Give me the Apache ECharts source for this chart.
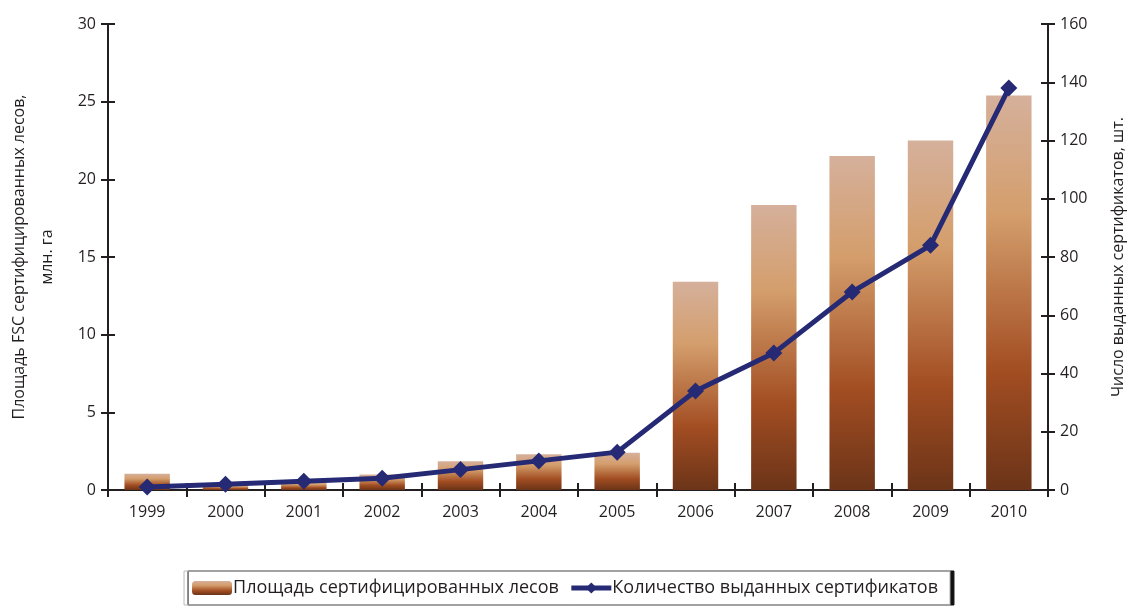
<!DOCTYPE html>
<html>
<head>
<meta charset="utf-8">
<script src="https://cdn.jsdelivr.net/npm/echarts@6/dist/echarts.min.js"></script>
<style>
  html, body { margin: 0; padding: 0; background: #fff; }
  #grafico { width: 1130px; height: 606px; }
</style>
</head>
<body>
<div id="grafico"></div>
<script>
// Datos
const anios = ['1999', '2000', '2001', '2002', '2003', '2004', '2005', '2006', '2007', '2008', '2009', '2010'];
const superficie = [1.05, 0.3, 0.5, 1.0, 1.85, 2.3, 2.4, 13.4, 18.35, 21.5, 22.5, 25.4];
const certificados = [1, 2, 3, 4, 7, 10, 13, 34, 47, 68, 84, 138];

const fuente = '"Open Sans", sans-serif';
const colorEje = '#231f20';

const grafico = echarts.init(document.getElementById('grafico'));

// Degradado de cada barra: claro arriba, marrón oscuro abajo
const degradado = new echarts.graphic.LinearGradient(0, 0, 0, 1, [
    { offset: 0, color: '#d5b09b' },
    { offset: 0.3, color: '#d49e6c' },
    { offset: 0.7, color: '#a24d22' },
    { offset: 1, color: '#6b3418' }
]);

const ejeBaseY = {
    type: 'value',
    splitLine: { show: false },
    axisLine: { show: true, lineStyle: { color: colorEje, width: 2 } },
    axisTick: { show: true, length: 7, lineStyle: { color: colorEje, width: 2 } },
    axisLabel: { color: '#231f20', fontSize: 16, fontFamily: fuente, margin: 12 }
};

const opciones = {
    animation: false,
    textStyle: { fontFamily: fuente },
    grid: { left: 108, right: 82, top: 24, bottom: 116, outerBoundsMode: 'none' },
    legend: {
        bottom: 1,
        left: 'center',
        itemWidth: 40,
        itemHeight: 14,
        itemGap: 10,
        padding: [8, 12, 8, 8],
        borderColor: '#bbbbbb',
        borderWidth: 1,
        backgroundColor: '#fff',
        shadowColor: '#111',
        shadowOffsetX: 4,
        shadowOffsetY: 0,
        shadowBlur: 0,
        textStyle: { fontSize: 18, color: '#231f20', fontFamily: fuente, padding: [0, 0, 0, -4] },
        data: [
            { name: 'Площадь сертифицированных лесов' },
            { name: 'Количество выданных сертификатов', lineStyle: { width: 5 } }
        ]
    },
    xAxis: [
        {
            type: 'category',
            data: anios,
            axisLine: { lineStyle: { color: colorEje, width: 2 } },
            axisTick: { show: true, length: 7, lineStyle: { color: colorEje, width: 2 } },
            axisLabel: { color: '#231f20', fontSize: 16, fontFamily: fuente, margin: 14 }
        },
        {
            // segundo eje solo para las marcas hacia adentro
            type: 'category',
            data: anios,
            position: 'bottom',
            axisLine: { show: false },
            axisTick: { show: true, inside: true, length: 7, lineStyle: { color: colorEje, width: 2 } },
            axisLabel: { show: false }
        }
    ],
    yAxis: [
        Object.assign({}, ejeBaseY, {
            min: 0, max: 30, interval: 5,
            position: 'left',
            name: 'Площадь FSC сертифицированных лесов,\nмлн. га',
            nameLocation: 'middle',
            nameGap: 47,
            nameTextStyle: { fontSize: 16, color: '#231f20', fontFamily: fuente, lineHeight: 28 }
        }),
        Object.assign({}, ejeBaseY, {
            min: 0, max: 160, interval: 20,
            position: 'right',
            name: 'Число выданных сертификатов, шт.',
            nameLocation: 'middle',
            nameGap: 62,
            nameRotate: 90,
            nameTextStyle: { fontSize: 16, color: '#231f20', fontFamily: fuente }
        }),
        {
            type: 'value', min: 0, max: 30, interval: 5, position: 'left',
            splitLine: { show: false }, axisLine: { show: false },
            axisTick: { show: true, inside: true, length: 7, lineStyle: { color: colorEje, width: 2 } },
            axisLabel: { show: false }
        },
        {
            type: 'value', min: 0, max: 160, interval: 20, position: 'right',
            splitLine: { show: false }, axisLine: { show: false },
            axisTick: { show: true, inside: true, length: 7, lineStyle: { color: colorEje, width: 2 } },
            axisLabel: { show: false }
        }
    ],
    series: [
        {
            name: 'Площадь сертифицированных лесов',
            type: 'bar',
            yAxisIndex: 0,
            barWidth: '58%',
            itemStyle: { color: degradado },
            data: superficie
        },
        {
            name: 'Количество выданных сертификатов',
            type: 'line',
            yAxisIndex: 1,
            symbol: 'diamond',
            symbolSize: 17,
            lineStyle: { color: '#262a75', width: 5 },
            itemStyle: { color: '#262a75' },
            data: certificados
        }
    ]
};

grafico.setOption(opciones);
</script>
</body>
</html>
